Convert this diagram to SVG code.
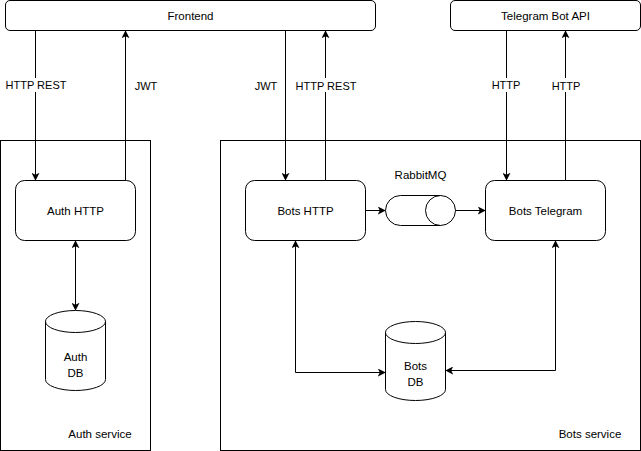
<svg xmlns="http://www.w3.org/2000/svg" width="641" height="451" viewBox="0 0 641 451">
<style>
.box{fill:#fff;stroke:#000;stroke-width:1}
.t{font-family:"Liberation Sans",Arial,sans-serif;font-size:11.5px;fill:#000;text-anchor:middle}
.tl{font-family:"Liberation Sans",Arial,sans-serif;font-size:11px;fill:#000;text-anchor:middle}
.ln{fill:none;stroke:#000;stroke-width:1}
.bg{fill:#fff}
</style>
<defs>
<marker id="ah" viewBox="0 0 10 10" refX="9" refY="5" markerWidth="8" markerHeight="8" markerUnits="userSpaceOnUse" orient="auto-start-reverse">
<path d="M0,0 L10,5 L0,10 L2.5,5 Z" fill="#000"/>
</marker>
</defs>
<rect width="641" height="451" fill="#fff"/>
<g id="auth-service"><rect class="box" x="0.5" y="140.5" width="150" height="310"/><text class="t" x="100" y="438">Auth service</text></g>
<g id="bots-service"><rect class="box" x="220.5" y="140.5" width="420" height="310"/><text class="t" x="590" y="438">Bots service</text></g>
<g id="frontend"><rect class="box" x="5.5" y="0.5" width="370" height="30" rx="4.5"/><text class="t" x="190.5" y="19.5">Frontend</text></g>
<g id="telegram-api"><rect class="box" x="450.5" y="0.5" width="190" height="30" rx="4.5"/><text class="t" x="545.5" y="19.5">Telegram Bot API</text></g>
<g id="auth-http"><rect class="box" x="15.5" y="180.5" width="120" height="60" rx="9"/><text class="t" x="75.5" y="214.5">Auth HTTP</text></g>
<g id="bots-http"><rect class="box" x="245.5" y="180.5" width="120" height="60" rx="9"/><text class="t" x="305.5" y="214.5">Bots HTTP</text></g>
<g id="bots-telegram"><rect class="box" x="485.5" y="180.5" width="120" height="60" rx="9"/><text class="t" x="545.5" y="214.5">Bots Telegram</text></g>
<g id="rabbitmq"><path class="box" d="M400.5,195.5 H440.5 A15,15 0 0 1 440.5,225.5 H400.5 A15,15 0 0 1 400.5,195.5 Z"/><path class="ln" d="M440.5,195.5 A15,15 0 0 0 440.5,225.5"/><text class="t" x="420.5" y="179">RabbitMQ</text></g>
<g id="auth-db"><path class="box" d="M45.5,321.5 A30,11 0 0 1 105.5,321.5 V379.5 A30,11 0 0 1 45.5,379.5 Z"/><path class="ln" d="M45.5,321.5 A30,11 0 0 0 105.5,321.5"/><text class="t" x="75.5" y="361">Auth</text><text class="t" x="75.5" y="377">DB</text></g>
<g id="bots-db"><path class="box" d="M385.5,332.5 A30,11 0 0 1 445.5,332.5 V389.5 A30,11 0 0 1 385.5,389.5 Z"/><path class="ln" d="M385.5,332.5 A30,11 0 0 0 445.5,332.5"/><text class="t" x="415.5" y="370">Bots</text><text class="t" x="415.5" y="386">DB</text></g>
<g id="connectors">
<path class="ln" d="M35.5,30.5 V180" marker-end="url(#ah)"/>
<path class="ln" d="M125.5,180.5 V31" marker-end="url(#ah)"/>
<path class="ln" d="M285.5,30.5 V180" marker-end="url(#ah)"/>
<path class="ln" d="M325.5,180.5 V31" marker-end="url(#ah)"/>
<path class="ln" d="M506.5,30.5 V180" marker-end="url(#ah)"/>
<path class="ln" d="M565.5,180.5 V31" marker-end="url(#ah)"/>
<path class="ln" d="M365.5,210.5 H385" marker-end="url(#ah)"/>
<path class="ln" d="M455.5,210.5 H485" marker-end="url(#ah)"/>
<path class="ln" d="M75.5,241 V310" marker-start="url(#ah)" marker-end="url(#ah)"/>
<path class="ln" d="M295.5,241 V372.5 H385" marker-start="url(#ah)" marker-end="url(#ah)"/>
<path class="ln" d="M555.5,241 V370.5 H446" marker-start="url(#ah)" marker-end="url(#ah)"/>
<rect class="bg" x="6" y="78" width="60" height="14"/><text class="tl" x="36" y="89">HTTP REST</text>
<rect class="bg" x="135" y="78" width="22" height="14"/><text class="tl" x="146" y="90">JWT</text>
<rect class="bg" x="255" y="78" width="22" height="14"/><text class="tl" x="266" y="90">JWT</text>
<rect class="bg" x="296" y="78" width="60" height="14"/><text class="tl" x="326" y="90">HTTP REST</text>
<rect class="bg" x="492" y="78" width="28" height="14"/><text class="tl" x="506" y="89">HTTP</text>
<rect class="bg" x="552" y="78" width="28" height="14"/><text class="tl" x="566" y="90">HTTP</text>
</g>
</svg>
